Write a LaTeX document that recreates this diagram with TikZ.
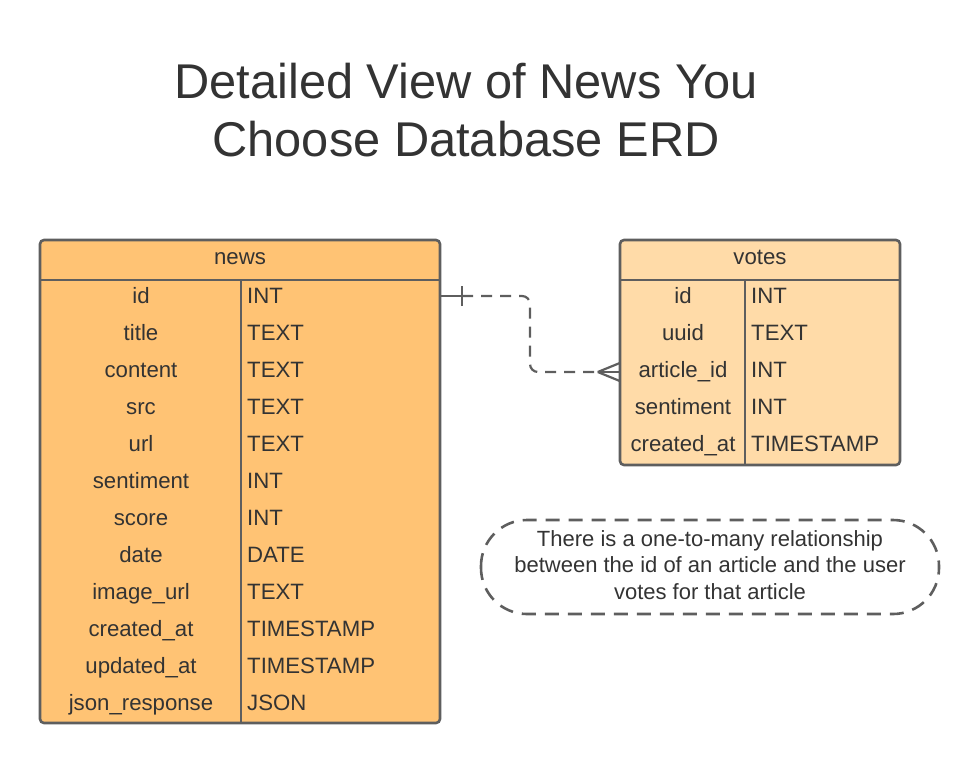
\documentclass[tikz,border=0pt]{standalone}
\usepackage{fontspec}
\setmainfont{Liberation Sans}
\definecolor{strk}{HTML}{5E5E5E}
\definecolor{newsfill}{HTML}{FFC374}
\definecolor{votefill}{HTML}{FFDBA8}
\definecolor{txt}{HTML}{333333}
\begin{document}
\begin{tikzpicture}[x=1pt,y=-1pt,
  tbl/.style={draw=strk, line width=2.6pt, rounded corners=4pt, inner sep=0pt},
  sep/.style={draw=strk, line width=2.6pt},
  cell/.style={font=\fontsize{22.2}{26}\selectfont, text=txt, inner sep=0pt, anchor=base},
  tcell/.style={font=\fontsize{22.2}{26}\selectfont, text=txt, inner sep=0pt, anchor=base west},
  conn/.style={draw=strk, line width=2.2pt},
  dconn/.style={conn, dash pattern=on 11pt off 8pt},
]
\useasboundingbox (0,0) rectangle (979,764);
% title
\node[font=\fontsize{48.8}{58}\selectfont, text=txt, align=center] (title) at (466,110) {Detailed View of News You\\Choose Database ERD};

% news table
\path[tbl, fill=newsfill] (40,240) rectangle (440,723);
\node[minimum width=400pt, minimum height=483pt, inner sep=0pt] (news) at (240,481.5) {};
\draw[sep] (40,280) -- (440,280);
\draw[sep] (241,280) -- (241,723);
\node[cell] (newsh) at (240,264) {news};
\foreach \n/\t [count=\i from 0] in {id/INT, title/TEXT, content/TEXT, src/TEXT, url/TEXT, sentiment/INT, score/INT, date/DATE, image\_url/TEXT, created\_at/TIMESTAMP, updated\_at/TIMESTAMP, json\_response/JSON} {
  \node[cell] (nk\i) at (141,{303+37*\i}) {\n};
  \node[tcell] (nt\i) at (247,{303+37*\i}) {\t};
}

% votes table
\path[tbl, fill=votefill] (620,240) rectangle (900,465);
\node[minimum width=280pt, minimum height=225pt, inner sep=0pt] (votes) at (760,352.5) {};
\draw[sep] (620,280) -- (900,280);
\draw[sep] (745,280) -- (745,465);
\node[cell] (voth) at (760,264) {votes};
\foreach \n/\t [count=\i from 0] in {id/INT, uuid/TEXT, article\_id/INT, sentiment/INT, created\_at/TIMESTAMP} {
  \node[cell] (vk\i) at (683,{303+37*\i}) {\n};
  \node[tcell] (vt\i) at (751,{303+37*\i}) {\t};
}

% connector
\coordinate (a) at (news.east |- 0,296);
\coordinate (b) at (votes.west |- 0,372);
\coordinate (a1) at ([xshift=22pt]a);
\coordinate (b1) at ([xshift=-22pt]b);
\draw[conn] (a) -- (a1);
\draw[conn] ([yshift=-10pt]a1) -- ([yshift=10pt]a1);
\draw[dconn, rounded corners=8pt] (a1) -- (530,296) -- (530,372) -- (b1);
\draw[conn] (b1) -- (b);
\draw[conn] (b1) -- ([yshift=-9pt]b);
\draw[conn] (b1) -- ([yshift=9pt]b);

% note
\draw[draw=strk, line width=2.6pt, dash pattern=on 14pt off 9pt, rounded corners=46pt] (481,520) rectangle (939,614);
\node[font=\fontsize{22}{26.5}\selectfont, text=txt, align=center] (note) at (710,565) {There is a one-to-many relationship\\between the id of an article and the user\\votes for that article};
\end{tikzpicture}
\end{document}
